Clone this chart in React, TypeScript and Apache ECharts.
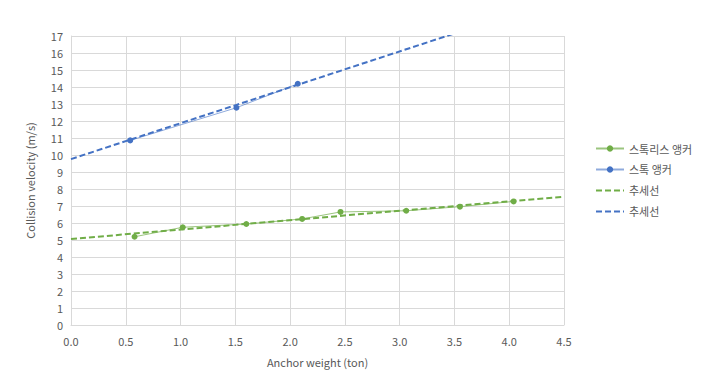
import React, { useEffect, useRef } from "react";
import * as echarts from "echarts";

const stocklessX = [0.58, 1.02, 1.60, 2.11, 2.46, 3.06, 3.55, 4.04];
const stocklessY = [5.19, 5.75, 5.94, 6.24, 6.65, 6.72, 6.96, 7.27];
const stockX = [0.54, 1.51, 2.07];
const stockY = [10.86, 12.78, 14.19];
const trendStocklessX = [0, 4.5];
const trendStocklessY = [5.06, 7.55];
const trendStockX = [0, 4.5];
const trendStockY = [9.76, 19.26];

const seriesNames = ["스톡리스 앵커", "스톡 앵커", "추세선#g", "추세선#b"];

const GREEN = "#70ad47";
const BLUE = "#4472c4";
const FONT = "'Noto Sans CJK KR', 'Noto Sans', sans-serif";

const zip = (xs: number[], ys: number[]) => xs.map((x, i) => [x, ys[i]]);

export default function App() {
  const ref = useRef<HTMLDivElement>(null);
  useEffect(() => {
    if (!ref.current) return;
    const chart = echarts.init(ref.current, null, { renderer: "svg" });
    chart.setOption({
      animation: false,
      backgroundColor: "#ffffff",
      textStyle: { fontFamily: FONT },
      grid: { left: 71, right: 150, top: 36, bottom: 60 },
      legend: {
        orient: "vertical",
        left: 590,
        top: 138,
        itemWidth: 28,
        itemHeight: 8,
        itemGap: 10,
        data: [
          { name: seriesNames[0] },
          { name: seriesNames[1] },
          { name: seriesNames[2], itemStyle: { opacity: 0 } },
          { name: seriesNames[3], itemStyle: { opacity: 0 } },
        ],
        formatter: (n: string) => n.split("#")[0],
        textStyle: { fontSize: 11, color: "#595959", fontFamily: FONT },
      },
      xAxis: {
        type: "value",
        min: 0,
        max: 4.5,
        interval: 0.5,
        name: "Anchor weight (ton)",
        nameLocation: "middle",
        nameGap: 31,
        nameTextStyle: { fontSize: 11, color: "#595959" },
        axisLine: { show: true, lineStyle: { color: "#d9d9d9" } },
        axisTick: { show: false },
        axisLabel: {
          fontSize: 11,
          color: "#595959",
          margin: 10,
          formatter: (v: number) => v.toFixed(1),
        },
        splitLine: { show: true, lineStyle: { color: "#d9d9d9" } },
      },
      yAxis: {
        type: "value",
        min: 0,
        max: 17,
        interval: 1,
        name: "Collision velocity (m/s)",
        nameLocation: "middle",
        nameGap: 36,
        nameTextStyle: { fontSize: 11, color: "#595959" },
        axisLine: { show: true, lineStyle: { color: "#d9d9d9" } },
        axisTick: { show: false },
        axisLabel: { fontSize: 11, color: "#595959", margin: 8 },
        splitLine: { show: true, lineStyle: { color: "#d9d9d9" } },
      },
      series: [
        {
          name: seriesNames[0],
          type: "line",
          data: zip(stocklessX, stocklessY),
          symbol: "circle",
          symbolSize: 6,
          lineStyle: { color: GREEN, width: 1, opacity: 0.7 },
          itemStyle: { color: GREEN },
          z: 3,
        },
        {
          name: seriesNames[1],
          type: "line",
          data: zip(stockX, stockY),
          symbol: "circle",
          symbolSize: 6,
          lineStyle: { color: BLUE, width: 1, opacity: 0.6 },
          itemStyle: { color: BLUE },
          z: 3,
        },
        {
          name: seriesNames[2],
          type: "line",
          data: zip(trendStocklessX, trendStocklessY),
          symbol: "none",
          lineStyle: { color: GREEN, width: 2, type: [6, 3] },
          itemStyle: { color: GREEN },
          clip: true,
          z: 4,
        },
        {
          name: seriesNames[3],
          type: "line",
          data: zip(trendStockX, trendStockY),
          symbol: "none",
          lineStyle: { color: BLUE, width: 2, type: [6, 3] },
          itemStyle: { color: BLUE },
          clip: true,
          z: 4,
        },
      ],
    });
    return () => chart.dispose();
  }, []);
  return <div ref={ref} style={{ width: 714, height: 385, position: "absolute", left: 0, top: 0 }} />;
}
